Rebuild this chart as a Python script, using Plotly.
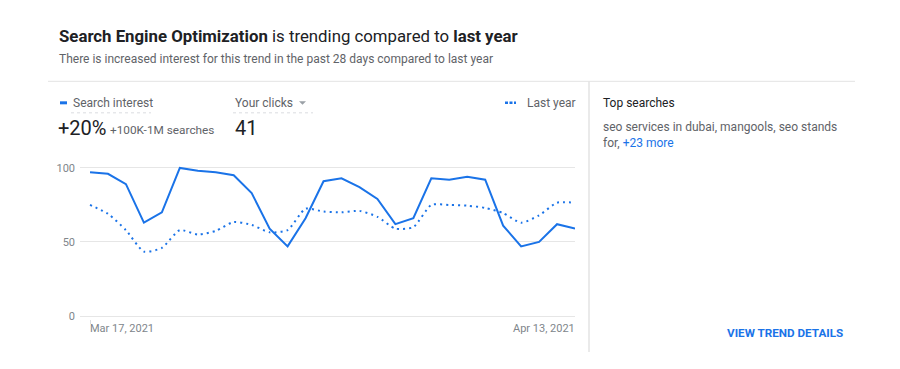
import plotly.graph_objects as go
import pandas as pd

# ---- data ----
dates = pd.date_range("2021-03-17", "2021-04-13", freq="D").strftime("%Y-%m-%d").tolist()
search_interest = [97, 96, 89, 63, 70, 100, 98, 97, 95, 83, 59, 47, 66, 91,
                   93, 87, 79, 62, 66, 93, 92, 94, 92, 61, 47, 50, 62, 59]
last_year = [75, 69, 58, 43.5, 46, 58, 55, 57.5, 63.5, 61.5, 56.5, 58, 72.5, 70.5,
             70, 71, 67, 59, 60, 75, 75, 74.5, 73, 69.5, 63, 68, 76.5, 76.5]
y_ticks = [0, 50, 100]
y_tick_labels = ["0", "50", "100"]
x_labels = ["Mar 17, 2021", "Apr 13, 2021"]

BLUE = "#1a73e8"
DARK = "#202124"
GRAY = "#5f6368"
LIGHT = "#80868b"
FONT = "Roboto"

OFF = 8  # page body margin offset
# plot area in (window) pixels
L, R, T, B = 80, 575, 159.12, 318.96
W, H = 900, 369


def px(x):
    return (x - L) / (R - L)


def py(y):
    return (B - y) / (B - T)


fig = go.Figure()
fig.add_trace(go.Scatter(
    x=dates, y=last_year, mode="lines", name="Last year",
    line=dict(color=BLUE, width=2, dash="2px,4px", shape="spline", smoothing=0.6),
    hoverinfo="skip"))
fig.add_trace(go.Scatter(
    x=dates, y=search_interest, mode="lines", name="Search interest",
    line=dict(color=BLUE, width=2), hoverinfo="skip"))

annotations = []


def text(x, y, s, size, color, anchor="left", bold=False):
    annotations.append(dict(
        x=px(x), y=py(y), xref="paper", yref="paper", text=(f"<b>{s}</b>" if bold else s),
        showarrow=False, xanchor=anchor, yanchor="middle",
        font=dict(family=FONT, size=size, color=color)))


text(57, 36.5, "<b>Search Engine Optimization</b> is trending compared to <b>last year</b>", 16.8, DARK)
text(57, 59.5, "There is increased interest for this trend in the past 28 days compared to last year", 12, GRAY)
text(71, 103, "Search interest", 12, GRAY)
text(56, 128, "+20%", 20, DARK)
text(108, 130, "+100K-1M searches", 11.8, GRAY)
text(233, 103, "Your clicks", 12, GRAY)
text(233, 128, "41", 20, DARK)
text(525, 103, "Last year", 12, GRAY)
text(601, 103, "Top searches", 12, DARK)
text(601, 127, "seo services in dubai, mangools, seo stands", 12, GRAY)
text(601, 143, f"for, <span style='color:{BLUE}'>+23 more</span>", 12, GRAY)
text(845, 332.5, "VIEW TREND DETAILS", 11.7, BLUE, anchor="right", bold=True)

# x axis labels
annotations.append(dict(x=dates[0], y=py(328), xref="x", yref="paper", text=x_labels[0],
                        showarrow=False, xanchor="left", yanchor="middle", xshift=-2,
                        font=dict(family=FONT, size=11, color=LIGHT)))
annotations.append(dict(x=dates[-1], y=py(328), xref="x", yref="paper", text=x_labels[1],
                        showarrow=False, xanchor="right", yanchor="middle", xshift=2,
                        font=dict(family=FONT, size=11, color=LIGHT)))

shapes = [
    # dividers
    dict(type="line", xref="paper", yref="paper", x0=px(48), x1=px(855), y0=py(81.5), y1=py(81.5),
         line=dict(color="#e3e3e3", width=1)),
    dict(type="line", xref="paper", yref="paper", x0=px(589), x1=px(589), y0=py(81.5), y1=py(352),
         line=dict(color="#e3e3e3", width=1.5)),
    # legend icons
    dict(type="line", xref="paper", yref="paper", x0=px(60), x1=px(67), y0=py(103), y1=py(103),
         line=dict(color=BLUE, width=3)),
    dict(type="line", xref="paper", yref="paper", x0=px(505), x1=px(516), y0=py(103), y1=py(103),
         line=dict(color=BLUE, width=2.5, dash="3px,1.5px")),
    # dotted underlines
    dict(type="line", xref="paper", yref="paper", x0=px(71), x1=px(151), y0=py(113), y1=py(113),
         line=dict(color="#dadce0", width=1, dash="dot")),
    dict(type="line", xref="paper", yref="paper", x0=px(233), x1=px(313), y0=py(113), y1=py(113),
         line=dict(color="#dadce0", width=1, dash="dot")),
    # dropdown arrow
    dict(type="path", xref="paper", yref="paper",
         path=f"M {px(299)} {py(101.5)} L {px(306)} {py(101.5)} L {px(302.5)} {py(105)} Z",
         fillcolor="#9aa0a6", line=dict(width=0)),
]

fig.update_layout(
    width=W, height=H,
    margin=dict(l=L - OFF, r=W - R + OFF, t=T - OFF, b=H - B + OFF, pad=0),
    paper_bgcolor="white", plot_bgcolor="white",
    showlegend=False,
    font=dict(family=FONT, color=GRAY),
    xaxis=dict(range=["2021-03-16 10:37", "2021-04-13"], showgrid=False, zeroline=False,
               tickvals=[dates[0]], ticktext=[""], ticks="outside", ticklen=4,
               tickcolor="#dadce0", showline=False, fixedrange=True),
    yaxis=dict(range=[-2, 106], tickvals=y_ticks, ticktext=y_tick_labels, showgrid=True,
               gridcolor="#e6e6e6", gridwidth=1, zeroline=False, showline=False,
               ticks="", ticklabelstandoff=4,
               tickfont=dict(family=FONT, size=11, color=LIGHT), fixedrange=True),
    annotations=annotations,
    shapes=shapes,
)

fig.write_html("out.html", config={"displayModeBar": False})
